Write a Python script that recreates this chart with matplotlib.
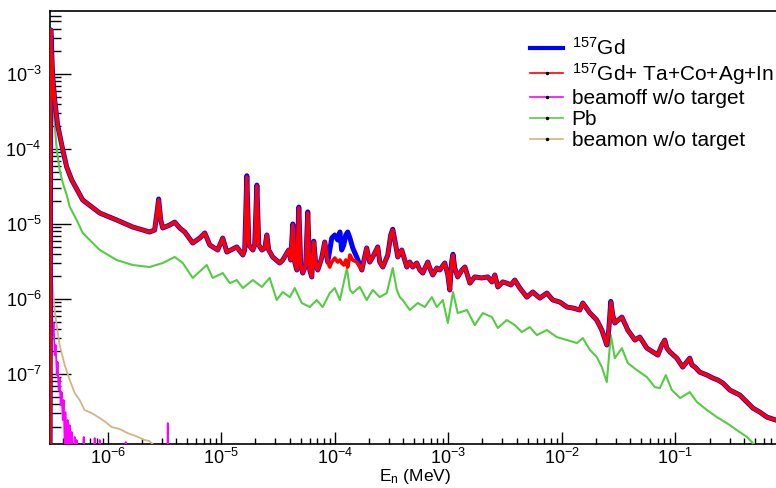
import matplotlib
matplotlib.use("Agg")
import matplotlib.pyplot as plt
from matplotlib.lines import Line2D
from matplotlib.ticker import LogLocator, NullFormatter

plt.rcParams['font.family'] = ['Liberation Sans', 'DejaVu Sans']
plt.rcParams['mathtext.fontset'] = 'custom'
plt.rcParams['mathtext.rm'] = 'Liberation Sans'
plt.rcParams['mathtext.it'] = 'Liberation Sans:italic'

# neutron energy (MeV), shared by the two Gd spectra
energy_gd = [
    3.10e-7, 3.15e-7, 3.27e-7, 3.41e-7, 3.62e-7, 4.02e-7, 4.35e-7, 4.82e-7, 6.02e-7, 8.51e-7,
    1.20e-6, 1.66e-6, 2.34e-6, 2.59e-6, 2.70e-6, 2.81e-6, 2.93e-6, 3.05e-6, 3.52e-6, 3.89e-6,
    4.31e-6, 4.77e-6, 5.61e-6, 6.47e-6, 7.16e-6, 7.92e-6, 9.31e-6, 1.03e-5, 1.12e-5, 1.37e-5,
    1.55e-5, 1.61e-5, 1.68e-5, 1.75e-5, 1.90e-5, 1.97e-5, 2.06e-5, 2.14e-5, 2.28e-5, 2.42e-5,
    2.52e-5, 2.62e-5, 2.84e-5, 3.27e-5, 3.48e-5, 3.93e-5, 4.09e-5, 4.27e-5, 4.44e-5, 4.63e-5,
    4.82e-5, 5.01e-5, 5.22e-5, 5.55e-5, 5.78e-5, 6.02e-5, 6.27e-5, 6.53e-5, 6.81e-5, 7.08e-5,
    7.67e-5, 8.16e-5, 8.67e-5, 9.03e-5, 9.41e-5, 1.00e-4, 1.06e-4, 1.11e-4, 1.15e-4, 1.20e-4,
    1.25e-4, 1.30e-4, 1.36e-4, 1.44e-4, 1.56e-4, 1.73e-4, 1.91e-4, 2.03e-4, 2.16e-4, 2.39e-4,
    2.49e-4, 2.65e-4, 2.93e-4, 3.11e-4, 3.24e-4, 3.44e-4, 3.59e-4, 3.89e-4, 4.31e-4, 4.58e-4,
    4.86e-4, 5.27e-4, 5.61e-4, 5.96e-4, 6.59e-4, 6.87e-4, 7.30e-4, 7.92e-4, 8.41e-4, 9.31e-4,
    9.91e-4, 1.03e-3, 1.07e-3, 1.10e-3, 1.14e-3, 1.21e-3, 1.32e-3, 1.40e-3, 1.55e-3, 1.71e-3,
    1.97e-3, 2.23e-3, 2.42e-3, 2.57e-3, 2.73e-3, 3.02e-3, 3.27e-3, 3.56e-3, 3.85e-3, 4.27e-3,
    4.92e-3, 5.55e-3, 6.40e-3, 7.38e-3, 8.34e-3, 9.60e-3, 1.11e-2, 1.25e-2, 1.44e-2, 1.53e-2,
    1.77e-2, 2.03e-2, 2.25e-2, 2.49e-2, 2.59e-2, 2.70e-2, 2.81e-2, 2.93e-2, 3.38e-2, 3.81e-2,
    4.40e-2, 4.86e-2, 5.61e-2, 6.34e-2, 7.01e-2, 7.60e-2, 8.07e-2, 8.41e-2, 8.95e-2, 0.103,
    0.116, 0.126, 0.134, 0.140, 0.149, 0.164, 0.190, 0.214, 0.237, 0.262,
    0.302, 0.370, 0.427, 0.482, 0.555, 0.640, 0.767,
]

gd157 = [
    1e-9, 3.86e-3, 9.70e-4, 4.50e-4, 2.09e-4, 9.70e-5, 5.75e-5, 3.86e-5, 2.09e-5, 1.40e-5,
    1.13e-5, 9.12e-6, 7.82e-6, 8.32e-6, 1.32e-5, 2.15e-5, 1.13e-5, 8.85e-6, 9.70e-6, 1.06e-5,
    8.85e-6, 7.82e-6, 5.58e-6, 6.50e-6, 7.59e-6, 5.25e-6, 4.50e-6, 6.50e-6, 4.23e-6, 4.94e-6,
    3.86e-6, 4.50e-6, 4.40e-5, 5.25e-6, 4.50e-6, 5.25e-6, 3.30e-5, 5.25e-6, 4.50e-6, 4.79e-6,
    7.14e-6, 4.50e-6, 3.63e-6, 3.02e-6, 3.31e-6, 4.50e-6, 3.31e-6, 1.00e-5, 3.11e-6, 2.44e-6,
    1.68e-5, 2.84e-6, 2.22e-6, 2.84e-6, 1.45e-5, 2.44e-6, 1.97e-6, 5.90e-6, 2.84e-6, 2.44e-6,
    3.52e-6, 5.75e-6, 3.11e-6, 4.50e-6, 6.50e-6, 7.14e-6, 6.12e-6, 7.82e-6, 4.50e-6, 5.25e-6,
    7.14e-6, 7.82e-6, 6.50e-6, 4.79e-6, 3.63e-6, 2.44e-6, 4.79e-6, 3.11e-6, 3.63e-6, 4.94e-6,
    3.11e-6, 2.67e-6, 3.86e-6, 7.14e-6, 8.50e-6, 5.25e-6, 3.63e-6, 4.50e-6, 2.67e-6, 3.11e-6,
    2.67e-6, 3.02e-6, 2.44e-6, 2.22e-6, 3.11e-6, 2.59e-6, 2.09e-6, 2.59e-6, 2.44e-6, 3.02e-6,
    2.09e-6, 1.32e-6, 3.11e-6, 3.95e-6, 2.59e-6, 1.97e-6, 2.44e-6, 2.67e-6, 1.63e-6, 1.97e-6,
    1.91e-6, 1.97e-6, 1.69e-6, 2.09e-6, 1.45e-6, 1.69e-6, 1.63e-6, 1.54e-6, 1.79e-6, 1.40e-6,
    1.06e-6, 1.24e-6, 1.03e-6, 1.20e-6, 9.70e-7, 9.12e-7, 7.82e-7, 7.59e-7, 7.14e-7, 8.85e-7,
    6.50e-7, 5.25e-7, 3.86e-7, 2.44e-7, 3.86e-7, 9.30e-7, 6.12e-7, 4.79e-7, 5.75e-7, 3.86e-7,
    2.84e-7, 3.11e-7, 2.22e-7, 1.97e-7, 1.79e-7, 2.44e-7, 2.84e-7, 2.22e-7, 1.97e-7, 1.63e-7,
    1.24e-7, 1.45e-7, 1.63e-7, 1.32e-7, 1.24e-7, 1.06e-7, 9.70e-8, 8.85e-8, 8.32e-8, 7.59e-8,
    6.12e-8, 5.25e-8, 4.23e-8, 3.52e-8, 3.11e-8, 2.67e-8, 2.44e-8,
]

gd157_mix = [
    1e-9, 3.86e-3, 9.70e-4, 4.50e-4, 2.09e-4, 9.70e-5, 5.75e-5, 3.86e-5, 2.09e-5, 1.40e-5,
    1.13e-5, 9.12e-6, 7.82e-6, 8.32e-6, 1.32e-5, 2.09e-5, 1.13e-5, 8.85e-6, 9.70e-6, 1.06e-5,
    8.85e-6, 7.82e-6, 5.58e-6, 6.50e-6, 7.59e-6, 5.25e-6, 4.50e-6, 6.50e-6, 4.23e-6, 4.94e-6,
    3.86e-6, 4.50e-6, 4.23e-5, 5.25e-6, 4.50e-6, 5.25e-6, 3.21e-5, 5.25e-6, 4.50e-6, 4.79e-6,
    7.14e-6, 4.50e-6, 3.63e-6, 3.02e-6, 3.31e-6, 4.50e-6, 3.31e-6, 9.70e-6, 3.11e-6, 2.44e-6,
    1.63e-5, 2.84e-6, 2.22e-6, 2.84e-6, 1.40e-5, 2.44e-6, 1.97e-6, 5.75e-6, 2.84e-6, 2.44e-6,
    3.52e-6, 5.75e-6, 3.11e-6, 2.67e-6, 3.11e-6, 3.52e-6, 3.11e-6, 3.31e-6, 3.02e-6, 2.84e-6,
    3.31e-6, 2.67e-6, 3.86e-6, 3.31e-6, 3.11e-6, 2.44e-6, 4.79e-6, 3.11e-6, 3.63e-6, 4.94e-6,
    3.11e-6, 2.67e-6, 3.86e-6, 7.14e-6, 8.32e-6, 5.25e-6, 3.63e-6, 4.50e-6, 2.67e-6, 3.11e-6,
    2.67e-6, 3.02e-6, 2.44e-6, 2.22e-6, 3.11e-6, 2.59e-6, 2.09e-6, 2.59e-6, 2.44e-6, 3.02e-6,
    2.09e-6, 1.32e-6, 3.11e-6, 3.86e-6, 2.59e-6, 1.97e-6, 2.44e-6, 2.67e-6, 1.63e-6, 1.97e-6,
    1.91e-6, 1.97e-6, 1.69e-6, 2.09e-6, 1.45e-6, 1.69e-6, 1.63e-6, 1.54e-6, 1.79e-6, 1.40e-6,
    1.06e-6, 1.24e-6, 1.03e-6, 1.20e-6, 9.70e-7, 9.12e-7, 7.82e-7, 7.59e-7, 7.14e-7, 8.85e-7,
    6.50e-7, 5.25e-7, 3.86e-7, 2.44e-7, 3.86e-7, 9.12e-7, 6.12e-7, 4.79e-7, 5.75e-7, 3.86e-7,
    2.84e-7, 3.11e-7, 2.22e-7, 1.97e-7, 1.79e-7, 2.44e-7, 2.84e-7, 2.22e-7, 1.97e-7, 1.63e-7,
    1.24e-7, 1.45e-7, 1.63e-7, 1.32e-7, 1.24e-7, 1.06e-7, 9.70e-8, 8.85e-8, 8.32e-8, 7.59e-8,
    6.12e-8, 5.25e-8, 4.23e-8, 3.52e-8, 3.11e-8, 2.67e-8, 2.44e-8,
]

energy_pb = [
    3.08e-7, 3.27e-7, 3.56e-7, 3.77e-7, 4.02e-7, 4.35e-7, 4.63e-7, 5.33e-7, 6.02e-7, 8.51e-7,
    1.20e-6, 1.66e-6, 2.34e-6, 3.05e-6, 3.89e-6, 4.58e-6, 5.61e-6, 7.45e-6, 8.41e-6, 1.03e-5,
    1.19e-5, 1.37e-5, 1.55e-5, 1.90e-5, 2.28e-5, 2.67e-5, 3.08e-5, 3.48e-5, 4.02e-5, 4.44e-5,
    5.12e-5, 6.02e-5, 6.94e-5, 7.83e-5, 9.03e-5, 1.00e-4, 1.11e-4, 1.28e-4, 1.36e-4, 1.44e-4,
    1.66e-4, 1.91e-4, 2.16e-4, 2.49e-4, 2.87e-4, 3.24e-4, 3.52e-4, 3.74e-4, 3.97e-4, 4.58e-4,
    5.38e-4, 6.21e-4, 7.16e-4, 7.92e-4, 8.95e-4, 9.91e-4, 1.10e-3, 1.21e-3, 1.46e-3, 1.71e-3,
    2.01e-3, 2.42e-3, 2.73e-3, 3.27e-3, 3.85e-3, 4.44e-3, 5.22e-3, 6.02e-3, 7.38e-3, 9.03e-3,
    1.11e-2, 1.36e-2, 1.53e-2, 1.77e-2, 2.03e-2, 2.25e-2, 2.49e-2, 2.70e-2, 2.93e-2, 3.38e-2,
    3.81e-2, 4.58e-2, 5.61e-2, 6.59e-2, 7.30e-2, 8.24e-2, 9.31e-2, 0.110, 0.134, 0.155,
    0.190, 0.232, 0.284, 0.348, 0.427, 0.482, 0.523,
]

pb = [
    1.79e-3, 4.50e-4, 9.70e-5, 5.25e-5, 3.52e-5, 2.44e-5, 1.69e-5, 1.13e-5, 7.59e-6, 4.50e-6,
    3.31e-6, 2.84e-6, 2.67e-6, 3.02e-6, 3.63e-6, 3.02e-6, 1.91e-6, 2.84e-6, 1.91e-6, 2.22e-6,
    1.63e-6, 1.79e-6, 1.40e-6, 1.79e-6, 1.45e-6, 1.91e-6, 9.70e-7, 1.24e-6, 1.06e-6, 1.40e-6,
    8.85e-7, 7.82e-7, 9.70e-7, 7.82e-7, 1.20e-6, 1.40e-6, 9.70e-7, 2.59e-6, 1.32e-6, 1.20e-6,
    1.45e-6, 9.70e-7, 1.32e-6, 1.06e-6, 1.20e-6, 2.59e-6, 1.32e-6, 1.06e-6, 9.70e-7, 7.14e-7,
    8.85e-7, 7.82e-7, 1.06e-6, 7.82e-7, 9.70e-7, 4.79e-7, 1.24e-6, 6.50e-7, 7.14e-7, 4.50e-7,
    6.50e-7, 5.75e-7, 4.11e-7, 5.25e-7, 4.50e-7, 3.63e-7, 4.23e-7, 3.31e-7, 3.86e-7, 3.11e-7,
    2.84e-7, 2.59e-7, 3.02e-7, 2.09e-7, 1.69e-7, 1.24e-7, 7.82e-8, 3.31e-7, 1.63e-7, 2.22e-7,
    1.40e-7, 1.13e-7, 9.12e-8, 6.71e-8, 6.50e-8, 9.70e-8, 6.12e-8, 4.79e-8, 5.75e-8, 4.23e-8,
    3.31e-8, 2.67e-8, 2.22e-8, 1.79e-8, 1.45e-8, 1.20e-8, 1.08e-8,
]

energy_beamon = [
    3.08e-7, 3.27e-7, 3.41e-7, 3.62e-7, 3.77e-7, 4.18e-7, 4.63e-7, 5.12e-7, 5.66e-7, 6.27e-7,
    7.23e-7, 8.51e-7, 9.60e-7, 1.08e-6, 1.28e-6, 1.50e-6, 1.77e-6, 2.12e-6, 2.34e-6, 2.59e-6,
]
beamon_no_target = [
    3.86e-6, 1.54e-6, 7.14e-7, 3.63e-7, 2.44e-7, 1.32e-7, 8.32e-8, 5.58e-8, 4.50e-8, 3.31e-8,
    3.02e-8, 2.59e-8, 2.29e-8, 1.97e-8, 1.85e-8, 1.63e-8, 1.49e-8, 1.32e-8, 1.28e-8, 1.09e-8,
]

energy_beamoff = [
    3.08e-7, 3.15e-7, 3.21e-7, 3.27e-7, 3.34e-7, 3.41e-7, 3.48e-7, 3.56e-7, 3.62e-7, 3.70e-7,
    3.77e-7, 3.85e-7, 3.93e-7, 4.02e-7, 4.09e-7, 4.18e-7, 4.26e-7, 4.35e-7, 4.44e-7, 4.53e-7,
    4.63e-7, 4.72e-7, 4.82e-7, 4.92e-7, 5.12e-7, 5.22e-7, 5.33e-7, 5.44e-7, 6.02e-7, 6.15e-7,
    6.27e-7, 7.53e-7, 7.67e-7, 7.84e-7, 8.34e-7, 8.51e-7, 8.67e-7, 1.41e-6, 1.44e-6, 1.47e-6,
    3.31e-6, 3.38e-6, 3.45e-6,
]
beamoff_no_target = [
    1.20e-6, 7.14e-7, 9.70e-7, 3.31e-7, 4.79e-7, 1.79e-7, 2.44e-7, 9.70e-8, 1.45e-7, 6.12e-8,
    8.85e-8, 3.86e-8, 5.75e-8, 2.44e-8, 4.50e-8, 1.13e-8, 3.11e-8, 1.13e-8, 2.44e-8, 1e-9,
    2.09e-8, 1e-9, 1.69e-8, 1e-9, 1.45e-8, 1e-9, 1.32e-8, 1e-9, 1e-9, 1.45e-8,
    1e-9, 1e-9, 1.40e-8, 1e-9, 1e-9, 1.32e-8, 1e-9, 1e-9, 1.24e-8, 1e-9,
    1e-9, 2.22e-8, 1e-9,
]

fig = plt.figure(figsize=(7.76, 4.88), dpi=100)
ax = fig.add_axes([0.0644, 0.0902, 0.9356, 0.8873])

ax.plot(energy_beamon, beamon_no_target, color='#d4b483', lw=1.3, zorder=3)
ax.plot(energy_beamoff, beamoff_no_target, color='#ff00ff', lw=1.3, zorder=4)
ax.plot(energy_pb, pb, color='#55cc44', lw=1.5, zorder=5)
ax.plot(energy_gd, gd157, color='#0000ff', lw=3.6, zorder=6)
ax.plot(energy_gd, gd157_mix, color='#ff0000', lw=2.6, zorder=7)

ax.set_xscale('log')
ax.set_yscale('log')

ax.set_xticks([1e-6, 1e-5, 1e-4, 1e-3, 1e-2, 1e-1])
ax.set_yticks([1e-7, 1e-6, 1e-5, 1e-4, 1e-3])
ax.xaxis.set_minor_locator(LogLocator(base=10, subs=range(2, 10), numticks=100))
ax.yaxis.set_minor_locator(LogLocator(base=10, subs=range(2, 10), numticks=100))
ax.xaxis.set_minor_formatter(NullFormatter())
ax.yaxis.set_minor_formatter(NullFormatter())
ax.set_xlim(3.1e-7, 0.77)
ax.set_ylim(1.17e-8, 6.9e-3)

ax.tick_params(axis='y', which='major', direction='in', length=15, width=1, labelsize=13, pad=6)
ax.tick_params(axis='y', which='minor', direction='in', length=8, width=1)
ax.tick_params(axis='x', which='major', direction='in', length=9, width=1, labelsize=13, pad=3)
ax.tick_params(axis='x', which='minor', direction='in', length=4.5, width=1)
ax.spines['right'].set_visible(False)
for s in ['left', 'top', 'bottom']:
    ax.spines[s].set_linewidth(1.2)

ax.set_xlabel(r'E$_{\rm n}$ (MeV)', fontsize=12.5)
ax.xaxis.set_label_coords(0.503, -0.054)

handles = [
    Line2D([], [], color='#0000ff', lw=3.0),
    Line2D([], [], color='#ff0000', lw=1.2, marker='.', markersize=3, mfc='k', mec='k'),
    Line2D([], [], color='#ff00ff', lw=1.2, marker='.', markersize=3, mfc='k', mec='k'),
    Line2D([], [], color='#55cc44', lw=1.2, marker='.', markersize=3, mfc='k', mec='k'),
    Line2D([], [], color='#d4b483', lw=1.2, marker='.', markersize=3, mfc='k', mec='k'),
]
labels = [r'$^{157}$Gd', r'$^{157}$Gd+ Ta+Co+Ag+In', 'beamoff w/o target', 'Pb', 'beamon w/o target']
ax.legend(handles, labels, loc='upper left', bbox_to_anchor=(0.661, 0.94), frameon=False,
          fontsize=15, handlelength=1.6, handletextpad=0.4, labelspacing=0.1,
          borderpad=0, borderaxespad=0)

fig.savefig('out.png', dpi=100)
